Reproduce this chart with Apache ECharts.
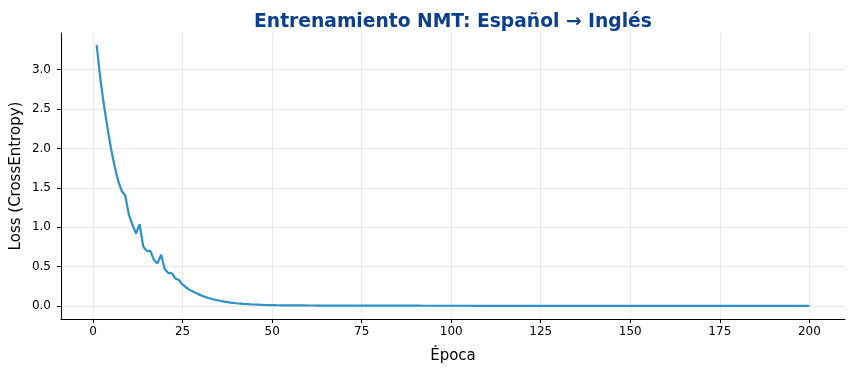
<!DOCTYPE html>
<html>
<head>
<meta charset="utf-8">
<script src="https://cdn.jsdelivr.net/npm/echarts@6/dist/echarts.min.js"></script>
<style>html,body{margin:0;padding:0;background:#fff}#c{width:854px;height:374px}</style>
</head>
<body>
<div id="c"></div>
<script>
const titleText = "Entrenamiento NMT: Español → Inglés";
const xLabel = "Época";
const yLabel = "Loss (CrossEntropy)";
const xTicks = [0, 25, 50, 75, 100, 125, 150, 175, 200];
const yTicks = [0, 0.5, 1.0, 1.5, 2.0, 2.5, 3.0];
const epochs = Array.from({length: 200}, (_, i) => i + 1);
const loss = [
 3.31, 2.90, 2.56, 2.27, 2.00, 1.78, 1.59, 1.46, 1.40, 1.16,
 1.03, 0.92, 1.04, 0.755, 0.70, 0.70, 0.585, 0.54, 0.65, 0.47,
 0.42, 0.415, 0.35, 0.33, 0.27, 0.235, 0.205, 0.18, 0.158, 0.138,
 0.12, 0.105, 0.092, 0.08, 0.07, 0.061, 0.053, 0.046, 0.04, 0.035,
 0.031, 0.027, 0.024, 0.021, 0.019, 0.017, 0.015, 0.013, 0.012, 0.011,
 0.010, 0.0095, 0.009, 0.0085, 0.008, 0.0077, 0.0074, 0.0071, 0.0068, 0.0065,
 0.0063, 0.0061, 0.0059, 0.0057, 0.0055, 0.0054, 0.0053, 0.0052, 0.0051, 0.005,
 0.0049, 0.0048, 0.0047, 0.0046, 0.0045, 0.0044, 0.0043, 0.0042, 0.0041, 0.004,
 0.0040, 0.0039, 0.0039, 0.0038, 0.0038, 0.0037, 0.0037, 0.0036, 0.0036, 0.0035,
 0.0035, 0.0034, 0.0034, 0.0033, 0.0033, 0.0032, 0.0032, 0.0031, 0.0031, 0.003,
 0.0030, 0.0030, 0.0029, 0.0029, 0.0029, 0.0028, 0.0028, 0.0028, 0.0027, 0.0027,
 0.0027, 0.0026, 0.0026, 0.0026, 0.0025, 0.0025, 0.0025, 0.0025, 0.0024, 0.0024,
 0.0024, 0.0024, 0.0023, 0.0023, 0.0023, 0.0023, 0.0022, 0.0022, 0.0022, 0.0022,
 0.0022, 0.0021, 0.0021, 0.0021, 0.0021, 0.0021, 0.0020, 0.0020, 0.0020, 0.0020,
 0.0020, 0.0020, 0.0019, 0.0019, 0.0019, 0.0019, 0.0019, 0.0019, 0.0018, 0.0018,
 0.0018, 0.0018, 0.0018, 0.0018, 0.0018, 0.0017, 0.0017, 0.0017, 0.0017, 0.0017,
 0.0017, 0.0017, 0.0016, 0.0016, 0.0016, 0.0016, 0.0016, 0.0016, 0.0016, 0.0016,
 0.0015, 0.0015, 0.0015, 0.0015, 0.0015, 0.0015, 0.0015, 0.0015, 0.0015, 0.0014,
 0.0014, 0.0014, 0.0014, 0.0014, 0.0014, 0.0014, 0.0014, 0.0014, 0.0014, 0.0013,
 0.0013, 0.0013, 0.0013, 0.0013, 0.0013, 0.0013, 0.0013, 0.0013, 0.0013, 0.0013
];

const chart = echarts.init(document.getElementById('c'), null, {renderer: 'canvas'});
const font = 'DejaVu Sans';
const option = {
  animation: false,
  backgroundColor: '#ffffff',
  title: {
    text: titleText,
    left: 448, top: 8, textAlign: 'center',
    textStyle: {fontFamily: font, fontSize: 18.7, fontWeight: 'bold', color: '#0a3f8c'}
  },
  grid: {left: 61, right: 9, top: 33, bottom: 55, containLabel: false, outerBoundsMode: 'none'},
  xAxis: {
    type: 'value', min: -8.95, max: 209.95,
    name: xLabel, nameLocation: 'middle', nameGap: 30, nameMoveOverlap: false,
    nameTextStyle: {fontFamily: font, fontSize: 15, color: '#000'},
    axisLine: {show: true, onZero: false, lineStyle: {color: '#000', width: 1}},
    axisTick: {show: true, length: 4, inside: false, customValues: xTicks, lineStyle: {color: '#000'}},
    axisLabel: {customValues: xTicks, fontFamily: font, fontSize: 12, color: '#000', margin: 7},
    splitLine: {show: true, lineStyle: {color: '#e3e3e3', width: 0.8}}
  },
  yAxis: {
    type: 'value', min: -0.165, max: 3.465,
    name: yLabel, nameLocation: 'middle', nameGap: 37, nameRotate: 90, nameMoveOverlap: false,
    nameTextStyle: {fontFamily: font, fontSize: 15, color: '#000'},
    axisLine: {show: true, onZero: false, lineStyle: {color: '#000', width: 1}},
    axisTick: {show: true, length: 4, inside: false, customValues: yTicks, lineStyle: {color: '#000'}},
    axisLabel: {customValues: yTicks, fontFamily: font, fontSize: 12, color: '#000', margin: 10,
      formatter: v => v.toFixed(1)},
    splitLine: {show: true, lineStyle: {color: '#e3e3e3', width: 0.8}}
  },
  series: [{
    type: 'line',
    data: epochs.map((e, i) => [e, loss[i]]),
    showSymbol: false,
    lineStyle: {color: '#2e91c8', width: 2.2},
    itemStyle: {color: '#2e91c8'}
  }]
};
chart.setOption(option);
</script>
</body>
</html>
